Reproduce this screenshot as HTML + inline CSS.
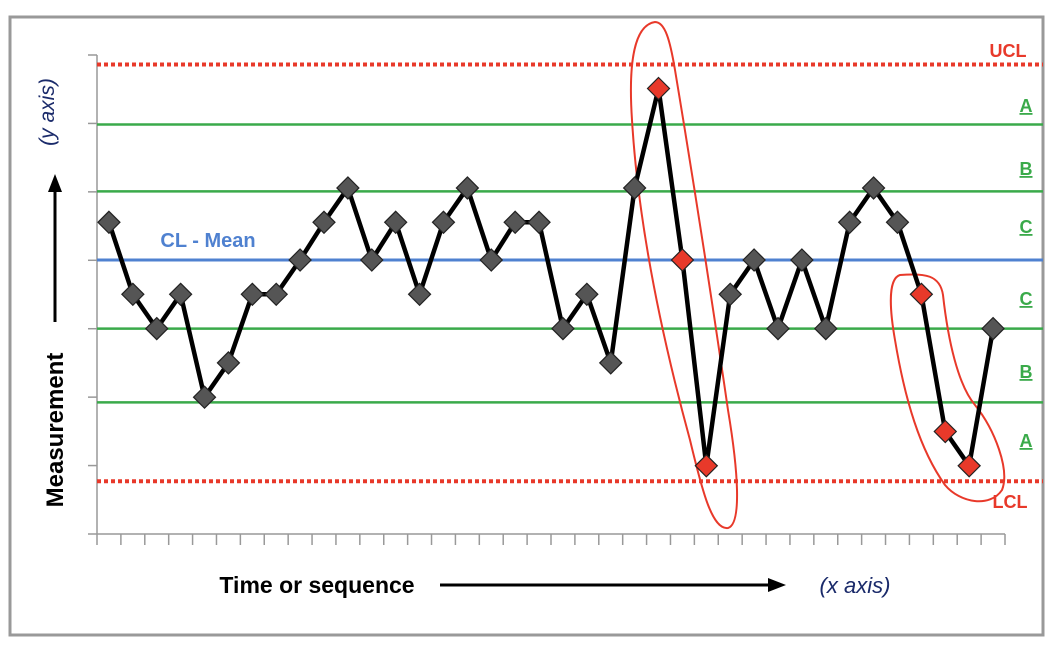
<!DOCTYPE html>
<html><head><meta charset="utf-8"><style>
html,body{margin:0;padding:0;background:#fff;}
svg{display:block;font-family:"Liberation Sans",sans-serif;}
</style></head><body>
<svg id="chart" width="1058" height="650" viewBox="0 0 1058 650" xmlns="http://www.w3.org/2000/svg">
<rect x="10" y="17" width="1033" height="618" fill="#fff" stroke="#999" stroke-width="3"/>
<g id="axes"></g>
<g id="lines"></g>
<path d="M655,22 C635,25 628,60 632,120 C638,220 660,330 690,440 C702,490 712,530 728,528 C742,524 738,470 728,410 C712,300 690,160 675,70 C670,40 665,22 655,22 Z" fill="none" stroke="#e8392a" stroke-width="2"/>
<path d="M900,275 C890,278 888,300 895,340 C905,400 920,450 945,485 C960,503 990,508 1002,490 C1010,470 995,430 975,405 C958,385 948,340 943,295 C940,275 925,273 900,275 Z" fill="none" stroke="#e8392a" stroke-width="2"/>
<g id="series"></g>
<text x="1008" y="57" font-size="18" font-weight="bold" fill="#e8392a" text-anchor="middle">UCL</text>
<text x="1010" y="508" font-size="18" font-weight="bold" fill="#e8392a" text-anchor="middle">LCL</text>
<text x="208" y="247" font-size="20" font-weight="bold" fill="#4f81d0" text-anchor="middle">CL - Mean</text>
<g font-size="18" font-weight="bold" fill="#3aaa4a" text-anchor="middle" text-decoration="underline">
<text x="1026" y="112">A</text>
<text x="1026" y="175">B</text>
<text x="1026" y="233">C</text>
<text x="1026" y="305">C</text>
<text x="1026" y="378">B</text>
<text x="1026" y="447">A</text>
</g>
<text transform="translate(63,430) rotate(-90)" font-size="24" font-weight="bold" fill="#000" text-anchor="middle">Measurement</text>
<line x1="55" y1="322" x2="55" y2="190" stroke="#000" stroke-width="3"/>
<path d="M48,192 L55,174 L62,192 Z" fill="#000"/>
<text transform="translate(54,112) rotate(-90)" font-size="21" font-style="italic" fill="#1a2a6a" text-anchor="middle">(y axis)</text>
<text x="317" y="593" font-size="23" font-weight="bold" fill="#000" text-anchor="middle">Time or sequence</text>
<line x1="440" y1="585" x2="770" y2="585" stroke="#000" stroke-width="3"/>
<path d="M768,578 L786,585 L768,592 Z" fill="#000"/>
<text x="855" y="593" font-size="22" font-style="italic" fill="#1a2a6a" text-anchor="middle">(x axis)</text>
</svg>
<script>
const values=[1.1,-1,-2,-1,-4,-3,-1,-1,0,1.1,2.1,0,1.1,-1,1.1,2.1,0,1.1,1.1,-2,-1,-3,2.1,5,0,-6,-1,0,-2,0,-2,1.1,2.1,1.1,-1,-5,-6,-2];
const flagged=[23,24,25,34,35,36];
const limitNames=['ucl','zone-a-upper','zone-b-upper','cl-mean','zone-b-lower','zone-a-lower','lcl'];
const limitValues=[5.7,3.95,2,0,-2,-4.15,-6.45];
const NS='http://www.w3.org/2000/svg';
const x0=97,x1=1005,yTop=55,yBot=534;
const bw=(x1-x0)/values.length;
function xs(i){return x0+bw*(i+0.5);}
function ys(v){return 260-v*34.3;}
function mk(tag,attrs,parent){const e=document.createElementNS(NS,tag);for(const k in attrs)e.setAttribute(k,attrs[k]);parent.appendChild(e);return e;}
const axes=document.getElementById('axes');
let a=mk('line',{x1:x0,y1:yTop,x2:x0,y2:yBot,stroke:'#999','stroke-width':1.5},axes);


for(let k=0;k<8;k++){const y=yTop+(yBot-yTop)*k/7;const t=mk('line',{x1:88,y1:y,x2:x0,y2:y,stroke:'#999','stroke-width':1.5},axes);

}
a=mk('line',{x1:x0,y1:yBot,x2:x1,y2:yBot,stroke:'#999','stroke-width':1.5},axes);


for(let i=0;i<=values.length;i++){const x=x0+bw*i;const t=mk('line',{x1:x,y1:yBot,x2:x,y2:545,stroke:'#999','stroke-width':1.5},axes);

}
const lines=document.getElementById('lines');
limitValues.forEach((v,i)=>{const n=limitNames[i];let st={stroke:'#3aaa4a','stroke-width':2.5};
if(n==='ucl'||n==='lcl')st={stroke:'#e8392a','stroke-width':4,'stroke-dasharray':'4 3'};
if(n==='cl-mean')st={stroke:'#4f81d0','stroke-width':3};
const l=mk('line',Object.assign({x1:x0,y1:ys(v),x2:1043,y2:ys(v)},st),lines);

});
const g=document.getElementById('series');
const p=mk('polyline',{points:values.map((v,i)=>xs(i)+','+ys(v)).join(' '),fill:'none',stroke:'#000','stroke-width':4.5,'stroke-linejoin':'round'},g);


values.forEach((v,i)=>{const x=xs(i),y=ys(v),r=11;const red=flagged.includes(i);
const d=mk('path',{d:`M${x},${y-r} L${x+r},${y} L${x},${y+r} L${x-r},${y} Z`,fill:red?'#e8392a':'#555',stroke:'#222','stroke-width':1.2},g);

});
</script>
</body></html>
